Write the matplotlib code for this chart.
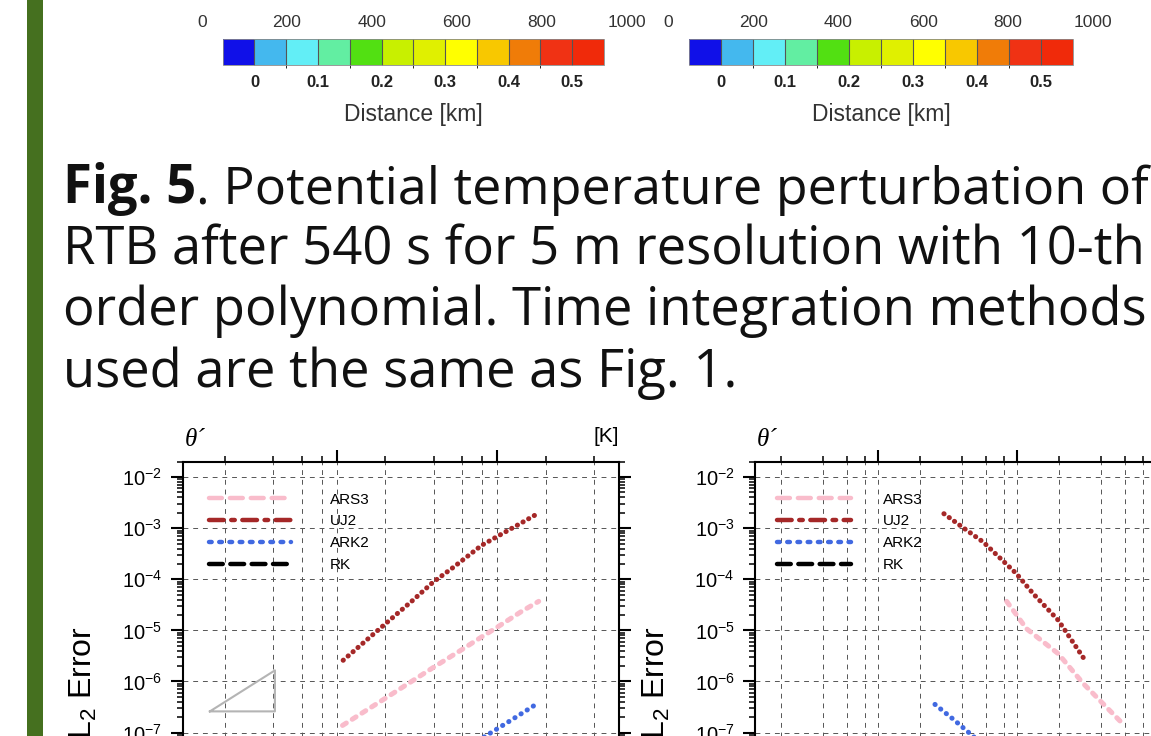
# Page strip: colour bars, caption and L2 error vs step size (two panels)

import matplotlib
matplotlib.use('Agg')
import matplotlib.pyplot as plt
import numpy as np
from matplotlib.colors import ListedColormap, BoundaryNorm
from matplotlib.cm import ScalarMappable
from matplotlib.ticker import LogLocator, NullFormatter
from matplotlib.patches import Rectangle
from matplotlib.lines import Line2D

plt.rcParams['font.family'] = ['Liberation Sans', 'DejaVu Sans']
plt.rcParams['mathtext.fontset'] = 'custom'
plt.rcParams['mathtext.rm'] = 'Liberation Sans'
plt.rcParams['mathtext.it'] = 'Liberation Sans:italic'

# ---- data ----
top_ticks = [0, 200, 400, 600, 800, 1000]
cbar_levels = [0, 0.05, 0.1, 0.15, 0.2, 0.25, 0.3, 0.35, 0.4, 0.45, 0.5]
cbar_ticks = [0, 0.1, 0.2, 0.3, 0.4, 0.5]
cbar_ticklabels = ['0', '0.1', '0.2', '0.3', '0.4', '0.5']
cbar_colors = ['#1010e8', '#44b8ee', '#62eef6', '#62eea2', '#52e012', '#c8f000',
               '#e0f000', '#ffff00', '#f8c800', '#f07c08', '#f03214', '#f02a0a']

caption = ['RTB after 540 s for 5 m resolution with 10-th',
           'order polynomial. Time integration methods',
           'used are the same as Fig. 1.']

methods = ['ARS3', 'UJ2', 'ARK2', 'RK']
colors = ['#f9bccb', '#a52828', '#4169e1', '#000000']
# dash patterns as they look along the curves and in the legend keys
curve_dashes = [(0.9, 1.4), (0.05, 1.25), (0.05, 1.4), (1.0, 1.4)]
key_dashes = [(2.9, 1.8), (3.3, 1.7, 0.8, 1.7), (0.6, 1.7), (3.1, 1.7)]

# left panel
x_a = {
    'ARS3': [1.08, 2.0, 4.0, 6.0, 8.0, 10.0, 14.0, 18.1],
    'UJ2': [1.09, 1.98, 3.0, 3.97, 5.29, 7.96, 10.0, 14.0, 18.1],
    'ARK2': [1.08, 2.0, 4.0, 8.56, 12.0, 18.1],
    'RK': [1.08, 4.0, 18.1],
}
y_a = {
    'ARS3': [1.38e-7, 4.7e-7, 1.9e-6, 4.2e-6, 7.5e-6, 1.16e-5, 2.3e-5, 3.7e-5],
    'UJ2': [2.6e-6, 1.31e-5, 4.0e-5, 8.8e-5, 1.7e-4, 4.6e-4, 6.9e-4, 1.25e-3, 1.98e-3],
    'ARK2': [1.4e-9, 4.8e-9, 1.9e-8, 8.8e-8, 1.7e-7, 3.85e-7],
    'RK': [1.0e-10, 1.4e-9, 2.6e-8],
}
# right panel
x_b = {
    'ARS3': [8.43, 11.7, 19.8, 30.0, 58.2],
    'UJ2': [2.98, 4.35, 5.72, 9.9, 13.1, 19.8, 31.2],
    'ARK2': [2.57, 3.5, 4.85, 8.0, 15.0],
    'RK': [2.6, 8.0, 30.0],
}
y_b = {
    'ARS3': [3.7e-5, 1.08e-5, 3.5e-6, 9.1e-7, 1.45e-7],
    'UJ2': [1.92e-3, 9.1e-4, 5.35e-4, 1.29e-4, 5.2e-5, 1.58e-5, 2.5e-6],
    'ARK2': [3.56e-7, 1.8e-7, 8.4e-8, 2.6e-8, 6.0e-9],
    'RK': [4.0e-9, 4.0e-10, 2.0e-11],
}
# slope-2 guide triangle (left panel)
tri_x = [0.1606, 0.4088, 0.4088, 0.1606]
tri_y = [2.6e-7, 2.6e-7, 1.65e-6, 2.6e-7]

W, H = 1151, 736
fig = plt.figure(figsize=(W / 100, H / 100), dpi=100)


def fx(px):
    return px / W


def fy(py):
    return 1 - py / H


# green side bar of the page
fig.patches.append(Rectangle((fx(26.5), 0), 16 / W, 1, transform=fig.transFigure,
                             facecolor='#45701f', edgecolor='none'))

# ---- cut-off x axes of the panels above + colour bars ----
cmap = ListedColormap(cbar_colors[1:-1])
cmap.set_under(cbar_colors[0])
cmap.set_over(cbar_colors[-1])
norm = BoundaryNorm(cbar_levels, cmap.N)

for x0, x1, c0, c1 in [(201.7, 626.7, 222.7, 604.0), (668.3, 1093.0, 689.3, 1072.7)]:
    tax = fig.add_axes([fx(x0), fy(-2), (x1 - x0) / W, 0.05])
    tax.set_xlim(0, 1000)
    tax.set_xticks(top_ticks)
    tax.set_yticks([])
    for s in tax.spines.values():
        s.set_visible(False)
    tax.patch.set_visible(False)
    tax.tick_params(axis='x', length=0, pad=12.5, labelsize=12.5, labelcolor='#333333')

    cax = fig.add_axes([fx(c0), fy(65.3), (c1 - c0) / W, 26 / H])
    cb = fig.colorbar(ScalarMappable(norm=norm, cmap=cmap), cax=cax,
                      orientation='horizontal', extend='both', extendrect=True,
                      extendfrac=0.1, drawedges=True, ticks=cbar_ticks)
    cb.set_ticklabels(cbar_ticklabels)
    cb.outline.set_linewidth(0.6)
    cb.outline.set_edgecolor('#888888')
    cb.dividers.set_color('#555555')
    cb.dividers.set_linewidth(0.8)
    cax.tick_params(length=0, pad=7, labelsize=12, labelcolor='#222222')
    for lab in cax.get_xticklabels():
        lab.set_fontweight('bold')
    fig.text(fx((c0 + c1) / 2), fy(115), 'Distance [km]', ha='center', va='center',
             fontsize=16.5, color='#333333')

# ---- caption ----
renderer = fig.canvas.get_renderer()
cap_font = ['Open Sans', 'DejaVu Sans']
probe = fig.text(0, 0, caption[2], fontsize=30, family=cap_font)
cap_size = 30 * 676 / probe.get_window_extent(renderer).width
probe.remove()

t = fig.text(fx(63), fy(203.5), 'Fig. 5', fontsize=cap_size, weight='bold',
             family=cap_font, va='baseline', color='#111111')
x_end = t.get_window_extent(renderer).x1
fig.text(x_end / W, fy(203.5), '. Potential temperature perturbation of',
         fontsize=cap_size * 0.99, family=cap_font, va='baseline', color='#111111')
for i, line in enumerate(caption):
    fig.text(fx(63), fy(264.5 + 61 * i), line, fontsize=cap_size, family=cap_font,
             va='baseline', color='#111111')

# ---- L2 error panels ----
ylo, yhi = 1e-11, 2e-2
dec_px = 51.1
ax_h = np.log10(yhi / ylo) * dec_px
top_px = 461.7


def error_panel(left_px, xlim, xs, ys, leg_x, hlen, hpad):
    ax = fig.add_axes([fx(left_px), fy(top_px + ax_h), 436 / W, ax_h / H])
    ax.set_xscale('log')
    ax.set_yscale('log')
    ax.set_xlim(*xlim)
    ax.set_ylim(ylo, yhi)
    ax.xaxis.set_major_locator(LogLocator(base=10, numticks=20))
    ax.xaxis.set_minor_locator(LogLocator(base=10, subs=[2, 4, 6, 8], numticks=20))
    ax.yaxis.set_major_locator(LogLocator(base=10, numticks=20))
    ax.yaxis.set_minor_locator(LogLocator(base=10, subs=np.arange(2, 10), numticks=20))
    ax.xaxis.set_minor_formatter(NullFormatter())
    ax.yaxis.set_minor_formatter(NullFormatter())
    ax.set_axisbelow(True)
    ax.grid(True, which='major', axis='both', color='#555555', lw=0.7, linestyle=(0, (5, 5)))
    ax.grid(True, which='minor', axis='x', color='#555555', lw=0.7, linestyle=(0, (5, 5)))
    for s in ax.spines.values():
        s.set_linewidth(1.5)
    ax.tick_params(which='both', direction='out', top=True, right=True,
                   labelright=False, labeltop=False)
    ax.tick_params(which='major', length=8.6, width=1.5, labelsize=14.5, pad=6)
    ax.tick_params(which='minor', length=4.3, width=1.1)

    keys = []
    for m, c, d, k in zip(methods, colors, curve_dashes, key_dashes):
        ax.plot(xs[m], ys[m], color=c, lw=3.6, dashes=d, dash_capstyle='round',
                solid_capstyle='round')
        keys.append(Line2D([], [], color=c, lw=3.2, dashes=k, dash_capstyle='round',
                           label=m))

    ax.legend(handles=keys, loc='upper left',
              bbox_to_anchor=(leg_x, 1 - (492.5 - top_px) / ax_h),
              frameon=False, borderpad=0, borderaxespad=0, fontsize=11,
              handlelength=hlen * 10.5 / 11, handletextpad=hpad * 10.5 / 11,
              labelspacing=0.52)

    fig.text(fx(left_px + 2), fy(440), 'θ´', family=['Liberation Serif', 'DejaVu Serif'],
             style='italic', fontsize=18, ha='left', va='center')
    fig.text(fx(left_px + 436), fy(437), '[K]', fontsize=15, ha='right', va='center')
    fig.text(fx(left_px - 99), fy(626), 'L$_2$ Error', rotation=90, ha='center',
             va='top', fontsize=23)
    return ax


ax1 = error_panel(182.7, (10 ** -0.964, 10 ** 1.757), x_a, y_a, 0.061, 5.6, 2.67)
ax1.plot(tri_x, tri_y, color='#b4b4b4', lw=1.5)
ax2 = error_panel(755.0, (10 ** -0.885, 10 ** 2.252), x_b, y_b, 0.0498, 5.07, 2.19)

fig.savefig('out.png', dpi=100)
